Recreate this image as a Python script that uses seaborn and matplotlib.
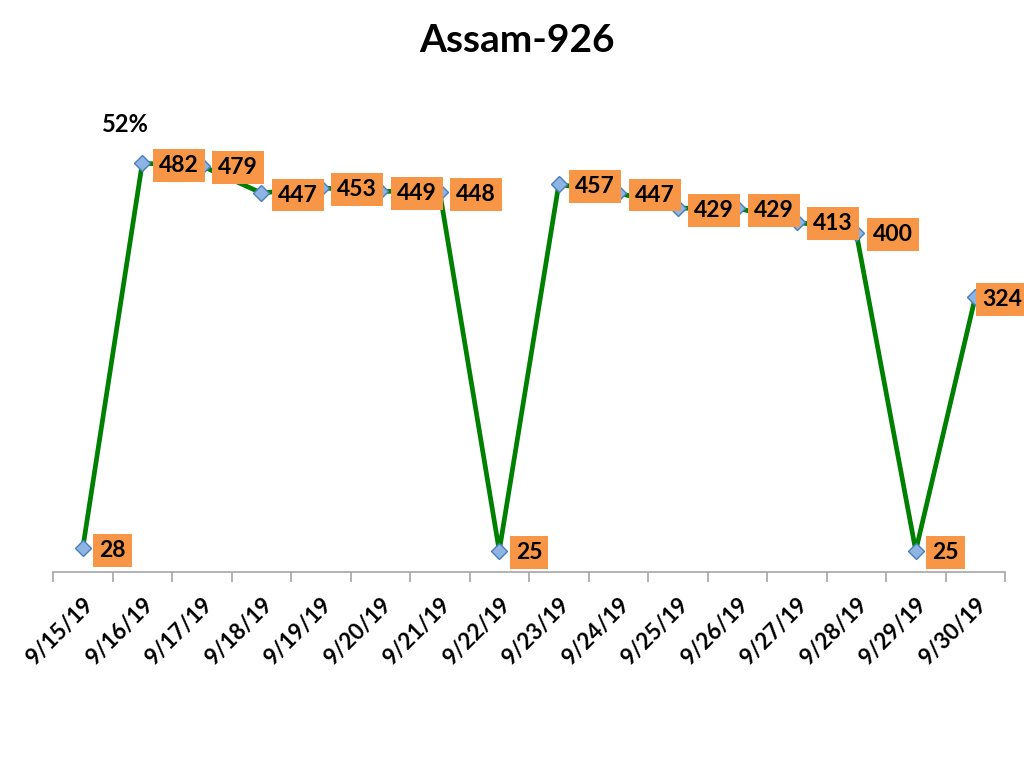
import seaborn as sns
import matplotlib.pyplot as plt
import pandas as pd

dates = ['9/15/19', '9/16/19', '9/17/19', '9/18/19', '9/19/19', '9/20/19', '9/21/19', '9/22/19',
         '9/23/19', '9/24/19', '9/25/19', '9/26/19', '9/27/19', '9/28/19', '9/29/19', '9/30/19']
counts = [28, 482, 479, 447, 453, 449, 448, 25, 457, 447, 429, 429, 413, 400, 25, 324]

sns.set_style("white")
plt.rcParams['font.family'] = ['Lato', 'DejaVu Sans']
plt.rcParams['text.color'] = 'black'

df = pd.DataFrame({'pos': range(len(dates)), 'count': counts})

fig = plt.figure(figsize=(10.24, 7.68), dpi=100)
ax = fig.add_axes([53 / 1024, 1 - 572 / 768, 952 / 1024, 424 / 768])

sns.lineplot(data=df, x='pos', y='count', ax=ax, color='#008000', linewidth=3.4,
             marker='D', markersize=8, markerfacecolor='#8DB4E2',
             markeredgecolor='#4A7EBB', markeredgewidth=1)

# data labels in orange boxes (last one squeezed in at the right edge)
for i, v in enumerate(counts):
    dx = 5 if i == len(counts) - 1 else 12
    ax.annotate(str(v), (i, v), xytext=(dx, -1.5), textcoords='offset points',
                ha='left', va='center', fontsize=16.5, fontweight='bold', color='black',
                bbox=dict(boxstyle='square,pad=0.26', fc='#F79646', ec='none'))

ax.set_xlim(-0.5, len(dates) - 0.5)
ax.set_ylim(0, 500)
ax.set_xlabel('')
ax.set_ylabel('')
ax.set_yticks([])

# ticks between categories, labels centred on categories
ax.set_xticks([i - 0.5 for i in range(len(dates) + 1)])
ax.set_xticklabels([])
ax.set_xticks(range(len(dates)), minor=True)
ax.set_xticklabels(dates, minor=True, rotation=45, ha='right', rotation_mode='anchor',
                   fontsize=16, fontweight='bold', color='black')
ax.tick_params(axis='x', which='major', length=7, width=1.2, color='#A6A6A6', direction='out', bottom=True)
ax.tick_params(axis='x', which='minor', length=0, pad=16)

for side in ['top', 'right', 'left']:
    ax.spines[side].set_visible(False)
ax.spines['bottom'].set_color('#A6A6A6')
ax.spines['bottom'].set_linewidth(1.2)

fig.text(517 / 1024, 1 - 40 / 768, 'Assam-926', ha='center', va='center',
         fontsize=28, fontweight='bold', color='black')
fig.text(125 / 1024, 1 - 125 / 768, '52%', ha='center', va='center',
         fontsize=17, fontweight='bold', color='black')

fig.savefig('out.png', dpi=100)
plt.close(fig)
